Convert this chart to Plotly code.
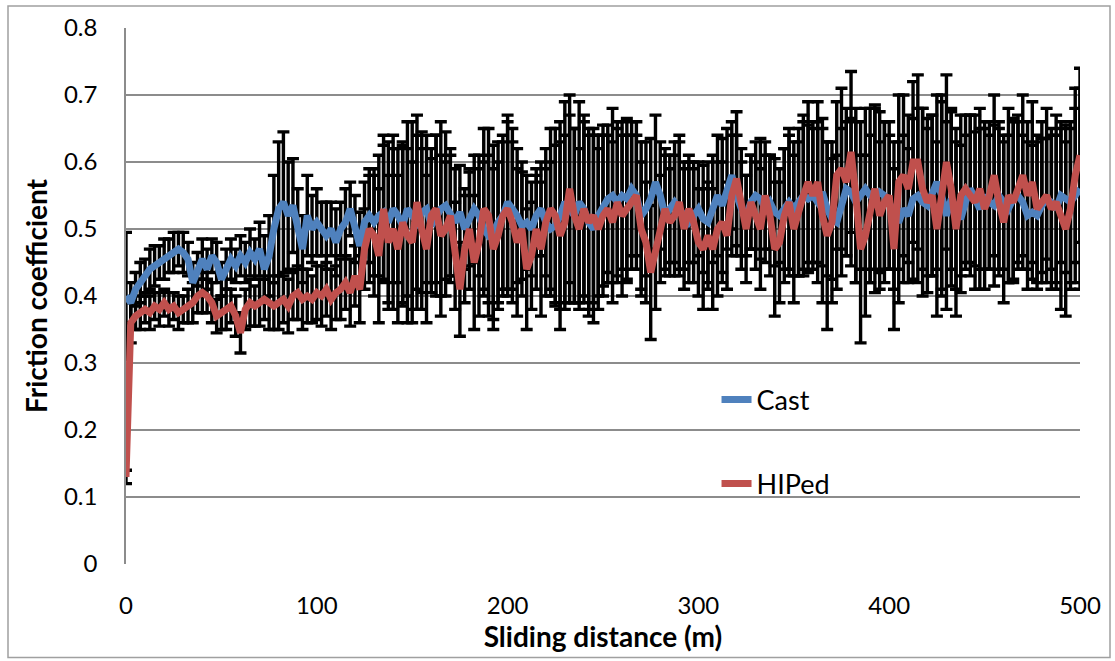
import numpy as np
import plotly.graph_objects as go

# Sliding distance sampled every 2.5 m, 0 .. 500 m
distance = np.linspace(0, 500, 201).tolist()

cast_mu = [
    0.40, 0.39, 0.41, 0.42, 0.43, 0.44, 0.445, 0.45, 0.455, 0.46, 0.465, 0.47, 0.465, 0.455, 0.42, 0.44, 0.455, 0.44, 0.46, 0.45,
    0.425, 0.44, 0.455, 0.445, 0.46, 0.45, 0.465, 0.455, 0.47, 0.44, 0.46, 0.50, 0.53, 0.54, 0.52, 0.535, 0.50, 0.47, 0.52, 0.50,
    0.51, 0.50, 0.49, 0.50, 0.48, 0.50, 0.51, 0.53, 0.50, 0.475, 0.51, 0.52, 0.51, 0.52, 0.525, 0.51, 0.53, 0.52, 0.505, 0.53,
    0.52, 0.51, 0.525, 0.53, 0.505, 0.52, 0.53, 0.535, 0.52, 0.51, 0.525, 0.50, 0.515, 0.53, 0.52, 0.50, 0.49, 0.495, 0.51, 0.52,
    0.54, 0.53, 0.52, 0.505, 0.51, 0.50, 0.52, 0.53, 0.51, 0.50, 0.505, 0.52, 0.54, 0.53, 0.52, 0.54, 0.53, 0.51, 0.50, 0.52,
    0.535, 0.545, 0.55, 0.54, 0.55, 0.545, 0.56, 0.55, 0.52, 0.53, 0.545, 0.57, 0.55, 0.52, 0.53, 0.54, 0.53, 0.52, 0.51, 0.52,
    0.53, 0.515, 0.51, 0.53, 0.55, 0.535, 0.56, 0.58, 0.55, 0.53, 0.52, 0.54, 0.55, 0.545, 0.53, 0.54, 0.525, 0.52, 0.53, 0.54,
    0.53, 0.54, 0.55, 0.545, 0.55, 0.54, 0.555, 0.53, 0.515, 0.51, 0.54, 0.56, 0.555, 0.54, 0.55, 0.56, 0.55, 0.545, 0.555, 0.55,
    0.54, 0.52, 0.51, 0.53, 0.52, 0.545, 0.55, 0.54, 0.535, 0.55, 0.57, 0.55, 0.52, 0.545, 0.53, 0.515, 0.54, 0.56, 0.545, 0.53,
    0.55, 0.54, 0.535, 0.55, 0.54, 0.53, 0.545, 0.55, 0.54, 0.52, 0.525, 0.52, 0.535, 0.545, 0.54, 0.53, 0.55, 0.545, 0.54, 0.55,
    0.56,
]

cast_err = [
    0.095, 0.03, 0.025, 0.03, 0.025, 0.03, 0.03, 0.025, 0.03, 0.025, 0.03, 0.025, 0.03, 0.025, 0.03, 0.025, 0.03, 0.03, 0.025, 0.03,
    0.025, 0.03, 0.03, 0.025, 0.03, 0.03, 0.035, 0.03, 0.04, 0.05, 0.06, 0.08, 0.10, 0.105, 0.08, 0.07, 0.06, 0.05, 0.06, 0.05,
    0.05, 0.04, 0.05, 0.04, 0.05, 0.04, 0.05, 0.04, 0.05, 0.05, 0.06, 0.07, 0.08, 0.09, 0.10, 0.12, 0.11, 0.10, 0.12, 0.13,
    0.14, 0.13, 0.12, 0.11, 0.10, 0.12, 0.13, 0.11, 0.10, 0.08, 0.07, 0.06, 0.07, 0.08, 0.09, 0.10, 0.12, 0.13, 0.12, 0.11,
    0.13, 0.12, 0.10, 0.08, 0.07, 0.07, 0.06, 0.07, 0.08, 0.10, 0.12, 0.14, 0.15, 0.14, 0.13, 0.15, 0.14, 0.13, 0.14, 0.12,
    0.12, 0.11, 0.13, 0.12, 0.11, 0.12, 0.10, 0.09, 0.11, 0.10, 0.09, 0.10, 0.08, 0.09, 0.08, 0.09, 0.10, 0.08, 0.09, 0.07,
    0.07, 0.08, 0.09, 0.08, 0.09, 0.10, 0.09, 0.08, 0.09, 0.07, 0.06, 0.07, 0.08, 0.09, 0.08, 0.07, 0.08, 0.07, 0.09, 0.10,
    0.10, 0.11, 0.12, 0.11, 0.10, 0.12, 0.11, 0.10, 0.09, 0.10, 0.11, 0.10, 0.11, 0.12, 0.11, 0.12, 0.13, 0.14, 0.12, 0.11,
    0.10, 0.11, 0.12, 0.11, 0.10, 0.12, 0.13, 0.14, 0.13, 0.12, 0.13, 0.15, 0.14, 0.13, 0.12, 0.11, 0.10, 0.11, 0.10, 0.12,
    0.11, 0.10, 0.12, 0.11, 0.10, 0.11, 0.12, 0.11, 0.10, 0.11, 0.10, 0.11, 0.10, 0.09, 0.10, 0.11, 0.10, 0.11, 0.12, 0.13,
    0.15,
]

hiped_mu = [
    0.13, 0.36, 0.37, 0.375, 0.38, 0.375, 0.385, 0.38, 0.39, 0.38, 0.385, 0.375, 0.38, 0.385, 0.39, 0.40, 0.405, 0.40, 0.39, 0.37,
    0.375, 0.38, 0.385, 0.37, 0.345, 0.38, 0.39, 0.385, 0.39, 0.395, 0.39, 0.385, 0.39, 0.395, 0.385, 0.40, 0.405, 0.395, 0.40, 0.395,
    0.405, 0.40, 0.41, 0.395, 0.405, 0.41, 0.42, 0.405, 0.43, 0.41, 0.47, 0.50, 0.49, 0.46, 0.53, 0.48, 0.50, 0.47, 0.51, 0.49,
    0.48, 0.54, 0.50, 0.47, 0.52, 0.53, 0.49, 0.50, 0.52, 0.46, 0.41, 0.47, 0.50, 0.45, 0.48, 0.53, 0.52, 0.47, 0.49, 0.52,
    0.53, 0.51, 0.48, 0.50, 0.44, 0.46, 0.50, 0.47, 0.51, 0.53, 0.52, 0.49, 0.51, 0.56, 0.52, 0.50, 0.53, 0.51, 0.52, 0.50,
    0.52, 0.53, 0.51, 0.54, 0.52, 0.53, 0.54, 0.55, 0.50, 0.48, 0.435, 0.47, 0.50, 0.53, 0.51, 0.52, 0.54, 0.50, 0.53, 0.51,
    0.48, 0.47, 0.49, 0.47, 0.50, 0.51, 0.49, 0.55, 0.575, 0.53, 0.50, 0.54, 0.52, 0.50, 0.55, 0.52, 0.47, 0.48, 0.52, 0.54,
    0.50, 0.53, 0.55, 0.57, 0.55, 0.57, 0.52, 0.49, 0.51, 0.58, 0.59, 0.57, 0.615, 0.55, 0.47, 0.49, 0.53, 0.56, 0.52, 0.54,
    0.55, 0.47, 0.57, 0.58, 0.56, 0.60, 0.60, 0.56, 0.54, 0.55, 0.50, 0.55, 0.60, 0.56, 0.50, 0.55, 0.56, 0.55, 0.54, 0.56,
    0.53, 0.55, 0.58, 0.54, 0.51, 0.55, 0.54, 0.56, 0.58, 0.55, 0.57, 0.53, 0.54, 0.55, 0.53, 0.54, 0.52, 0.50, 0.53, 0.58,
    0.61,
]

hiped_err = [
    0.01, 0.03, 0.02, 0.025, 0.02, 0.025, 0.02, 0.025, 0.02, 0.025, 0.02, 0.025, 0.02, 0.025, 0.03, 0.025, 0.03, 0.025, 0.03, 0.025,
    0.025, 0.03, 0.025, 0.03, 0.03, 0.03, 0.035, 0.03, 0.035, 0.03, 0.04, 0.035, 0.04, 0.035, 0.04, 0.035, 0.04, 0.045, 0.04, 0.035,
    0.04, 0.045, 0.04, 0.045, 0.04, 0.045, 0.04, 0.05, 0.045, 0.05, 0.06, 0.08, 0.09, 0.10, 0.11, 0.10, 0.12, 0.11, 0.12, 0.13,
    0.12, 0.13, 0.12, 0.11, 0.10, 0.11, 0.12, 0.10, 0.09, 0.08, 0.07, 0.08, 0.09, 0.10, 0.11, 0.12, 0.13, 0.12, 0.11, 0.12,
    0.13, 0.12, 0.11, 0.10, 0.09, 0.08, 0.09, 0.10, 0.11, 0.12, 0.13, 0.14, 0.13, 0.14, 0.13, 0.12, 0.13, 0.14, 0.13, 0.12,
    0.12, 0.11, 0.12, 0.11, 0.12, 0.11, 0.10, 0.11, 0.10, 0.09, 0.10, 0.09, 0.08, 0.09, 0.08, 0.09, 0.10, 0.09, 0.08, 0.09,
    0.08, 0.09, 0.08, 0.09, 0.10, 0.09, 0.08, 0.09, 0.10, 0.09, 0.08, 0.07, 0.08, 0.09, 0.08, 0.09, 0.10, 0.09, 0.10, 0.11,
    0.11, 0.10, 0.11, 0.12, 0.11, 0.12, 0.13, 0.14, 0.12, 0.11, 0.12, 0.11, 0.12, 0.13, 0.14, 0.12, 0.11, 0.12, 0.11, 0.12,
    0.11, 0.12, 0.13, 0.12, 0.11, 0.12, 0.13, 0.12, 0.11, 0.12, 0.13, 0.14, 0.13, 0.12, 0.13, 0.12, 0.11, 0.12, 0.13, 0.12,
    0.12, 0.11, 0.12, 0.11, 0.12, 0.13, 0.12, 0.11, 0.12, 0.11, 0.12, 0.11, 0.12, 0.13, 0.12, 0.13, 0.14, 0.13, 0.12, 0.13,
    0.13,
]

series_names = ["Cast", "HIPed"]
series_colors = ["#4F81BD", "#C0504D"]
x_ticks = [0, 100, 200, 300, 400, 500]
y_ticks = [0, 0.1, 0.2, 0.3, 0.4, 0.5, 0.6, 0.7, 0.8]
y_tick_labels = ["0", "0.1", "0.2", "0.3", "0.4", "0.5", "0.6", "0.7", "0.8"]

FONT = "Lato, 'Open Sans', Arial, sans-serif"

fig = go.Figure()

# error bars (black) drawn beneath the lines
for mu, err in [(cast_mu, cast_err), (hiped_mu, hiped_err)]:
    fig.add_trace(go.Scatter(
        x=distance, y=mu, mode="markers",
        marker=dict(size=1, color="rgba(0,0,0,0)"),
        error_y=dict(type="data", array=err, visible=True,
                     color="black", thickness=3.4, width=6),
        showlegend=False, hoverinfo="skip",
    ))

for name, mu, col in zip(series_names, [cast_mu, hiped_mu], series_colors):
    fig.add_trace(go.Scatter(
        x=distance, y=mu, mode="lines", name=name,
        line=dict(color=col, width=7),
        legendgroup=name,
    ))

fig.update_layout(
    width=1115, height=661,
    margin=dict(l=126, r=35, t=25, b=97),
    paper_bgcolor="white", plot_bgcolor="white",
    font=dict(family=FONT, color="black"),
    showlegend=True,
    legend=dict(
        x=0.619, y=0.352, xanchor="left", yanchor="top",
        bgcolor="rgba(0,0,0,0)", borderwidth=0,
        font=dict(family=FONT, size=27, color="black"),
        tracegroupgap=46,
    ),
    xaxis=dict(
        range=[0, 500], tickvals=x_ticks, ticktext=[str(v) for v in x_ticks],
        showgrid=False, zeroline=False,
        showline=False,
        ticks="outside", ticklen=20, tickcolor="rgba(0,0,0,0)",
        tickfont=dict(family=FONT, size=24, color="black"),
        title=dict(text="<b>Sliding distance (m)</b>", standoff=6,
                   font=dict(family=FONT, size=28, color="black")),
    ),
    yaxis=dict(
        range=[0, 0.8], tickvals=y_ticks, ticktext=y_tick_labels,
        showgrid=True, gridcolor="#8C8C8C", gridwidth=1.5,
        zeroline=False,
        showline=True, linecolor="#8C8C8C", linewidth=1.5,
        ticks="outside", ticklen=22, tickcolor="rgba(0,0,0,0)",
        tickfont=dict(family=FONT, size=24, color="black"),
        title=dict(text="<b>Friction coefficient</b>", standoff=8,
                   font=dict(family=FONT, size=28, color="black")),
    ),
    shapes=[
        dict(type="rect", xref="paper", yref="paper",
             x0=-118 / 954, x1=(1110 - 126) / 954, y0=-94 / 539, y1=(564 - 3) / 539,
             line=dict(color="#A0A0A0", width=1.5), fillcolor="rgba(0,0,0,0)", layer="below"),
    ],
)

fig.write_html("out.html")
